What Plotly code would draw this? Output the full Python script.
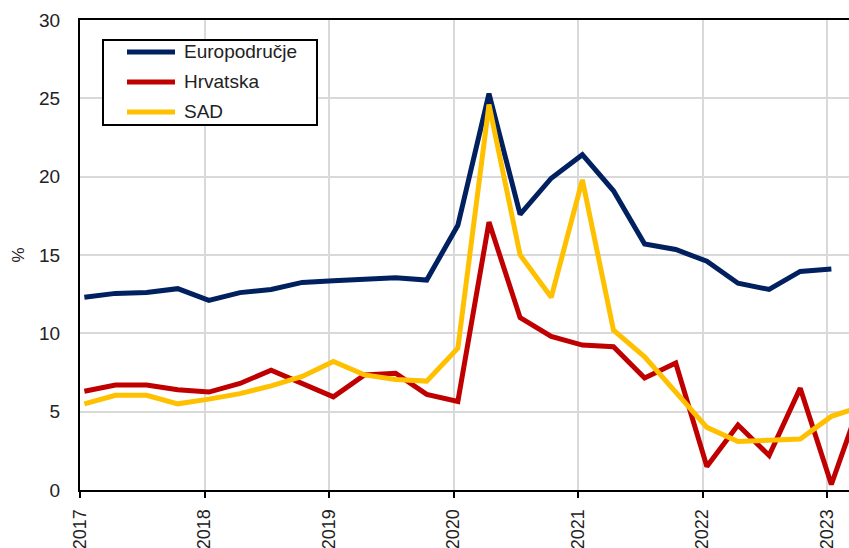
import plotly.graph_objects as go

# kvartalni podaci, 2017 Q1 - 2023 Q2
quarters = [f"{y}Q{q}" for y in range(2017, 2024) for q in range(1, 5)][:26]

europodrucje = [12.3, 12.55, 12.6, 12.85, 12.1, 12.6, 12.8, 13.25, 13.35, 13.45, 13.55, 13.4,
                16.9, 25.3, 17.6, 19.9, 21.4, 19.1, 15.7, 15.35, 14.6, 13.2, 12.8, 13.95, 14.1, None]
hrvatska = [6.3, 6.7, 6.7, 6.4, 6.25, 6.8, 7.65, 6.8, 5.95, 7.35, 7.45, 6.1,
            5.65, 17.1, 11.0, 9.8, 9.25, 9.15, 7.15, 8.1, 1.5, 4.15, 2.2, 6.5, 0.35, 6.0]
sad = [5.5, 6.05, 6.05, 5.5, 5.8, 6.15, 6.65, 7.25, 8.2, 7.35, 7.05, 6.95,
       9.05, 24.6, 15.0, 12.3, 19.8, 10.2, 8.5, 6.3, 4.0, 3.1, 3.2, 3.25, 4.7, 5.35]

names = ["Europodručje", "Hrvatska", "SAD"]
colors = ["#002060", "#C00000", "#FFC000"]
series = [europodrucje, hrvatska, sad]

# kvartal -> decimalna godina
def to_year(q):
    return int(q[:4]) + (int(q[-1]) - 1) * 0.25 + 0.035

x = [to_year(q) for q in quarters]

W, H = 849, 548
L, R, T, B = 80, 0, 20, 58
pw, ph = W - L - R, H - T - B

def px(xp):
    return (xp - L) / pw

def py(yp):
    return (H - B - yp) / ph

fig = go.Figure()
for name, color, vals in zip(names, colors, series):
    fig.add_trace(go.Scatter(x=x, y=vals, mode="lines", name=name,
                             line=dict(color=color, width=5), showlegend=False))

font = dict(family="Liberation Sans, Arial", size=19, color="#222222")

# ručna legenda (duže linije kao u originalu)
shapes = [dict(type="rect", xref="paper", yref="paper", x0=px(103), x1=px(317), y0=py(40), y1=py(125),
               line=dict(color="black", width=2), fillcolor="white", layer="above")]
annotations = []
for i, (name, color) in enumerate(zip(names, colors)):
    yy = 52 + i * 30
    shapes.append(dict(type="line", xref="paper", yref="paper", x0=px(127), x1=px(175), y0=py(yy), y1=py(yy),
                       line=dict(color=color, width=5), layer="above"))
    annotations.append(dict(xref="paper", yref="paper", x=px(182), y=py(yy), text=name, showarrow=False,
                            xanchor="left", yanchor="middle", font=font))

fig.update_layout(
    width=W, height=H,
    margin=dict(l=L, r=R, t=T, b=B, autoexpand=False),
    plot_bgcolor="white", paper_bgcolor="white",
    font=font,
    shapes=shapes, annotations=annotations,
    showlegend=False,
)
fig.update_xaxes(range=[2017, 2017 + pw / 124.5], tick0=2017, dtick=1, tickformat="d",
                 tickangle=-90, ticks="outside", ticklen=6, tickcolor="black", tickwidth=2,
                 showline=True, linecolor="black", linewidth=2, mirror=True,
                 showgrid=True, gridcolor="#d9d9d9", gridwidth=2, zeroline=False,
                 ticklabelstandoff=4, tickfont=dict(size=18))
fig.update_yaxes(range=[0, 30], dtick=5, ticks="", ticklabelstandoff=14,
                 showline=True, linecolor="black", linewidth=2,
                 showgrid=True, gridcolor="#d9d9d9", gridwidth=2, zeroline=False,
                 title=dict(text="%", standoff=10, font=dict(size=17)))

fig.write_html("out.html", config={"displayModeBar": False},
               post_script="document.body.style.margin='0';document.body.style.overflow='hidden';")
